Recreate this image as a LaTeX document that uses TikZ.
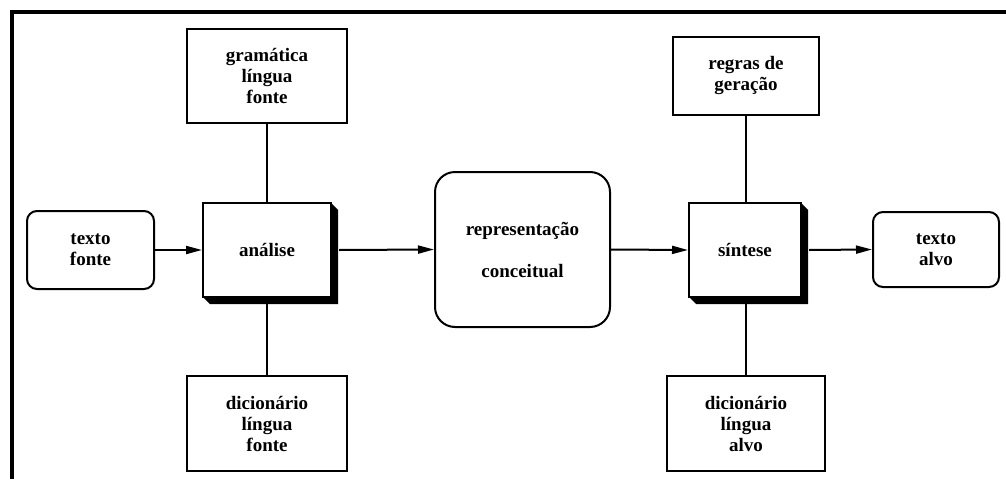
\documentclass[tikz,border=0pt]{standalone}
\usepackage{fontspec}
\setmainfont{Liberation Serif}
\usetikzlibrary{arrows.meta}
\begin{document}
\begin{tikzpicture}[x=1pt,y=-1pt,
  every node/.style={font=\fontsize{19}{21}\selectfont\bfseries, align=center, inner sep=0pt},
  plainbox/.style={draw, line width=2pt, minimum width=#1},
  roundbox/.style={draw, line width=2pt, rounded corners=10pt},
  procbox/.style={draw, line width=2pt, fill=white},
  link/.style={line width=2pt},
  flow/.style={line width=2pt, -{Triangle[length=16pt,width=8pt]}},
  shade/.style={fill=black, draw=black, line width=1pt}
]
\useasboundingbox (0,0) rectangle (1006,479);

% outer frame (top and left edges)
\draw[line width=4pt] (12,479) -- (12,12) -- (1006,12);

% sources and targets
\node[roundbox, minimum width=127pt, minimum height=78pt] (tf) at (90.5,250) {texto\\fonte};
\node[roundbox, minimum width=126pt, minimum height=75pt] (ta) at (936,249.5) {texto\\alvo};

% knowledge boxes
\node[draw, line width=2pt, minimum width=160pt, minimum height=94pt] (gr) at (267,76) {gramática\\língua\\fonte};
\node[draw, line width=2pt, minimum width=160pt, minimum height=95pt] (dl) at (267,423.5) {dicionário\\língua\\fonte};
\node[draw, line width=2pt, minimum width=146pt, minimum height=78pt] (rg) at (746,76) {regras de\\geração};
\node[draw, line width=2pt, minimum width=158pt, minimum height=95pt] (da) at (746,423.5) {dicionário\\língua\\alvo};

% conceptual representation
\node[draw, line width=2pt, rounded corners=20pt, minimum width=175pt, minimum height=155pt] (rc) at (522.5,249.5) {representação\\[21pt]conceitual};

% processing boxes (placeholders for coordinates)
\coordinate (anc) at (267,250);
\coordinate (sic) at (745,250);

% vertical links
\draw[link] (gr.south) -- (267,203);
\draw[link] (267,297) -- (dl.north);
\draw[link] (rg.south) -- (746,203);
\draw[link] (746,297) -- (da.north);

% shadows of processing boxes
\fill[black] (203,297) -- (210,304) -- (338,304) -- (338,210) -- (331,203) -- (331,297) -- cycle;
\fill[black] (689,297) -- (696,304) -- (808,304) -- (808,210) -- (801,203) -- (801,297) -- cycle;

\node[procbox, minimum width=128pt, minimum height=94pt] (an) at (anc) {análise};
\node[procbox, minimum width=112pt, minimum height=94pt] (si) at (sic) {síntese};

% data flow
\draw[flow] (tf.east) -- (an.west);
\draw[flow] ([xshift=7pt]an.east) -- (rc.west);
\draw[flow] (rc.east) -- (si.west);
\draw[flow] ([xshift=7pt]si.east) -- (ta.west);
\end{tikzpicture}
\end{document}
